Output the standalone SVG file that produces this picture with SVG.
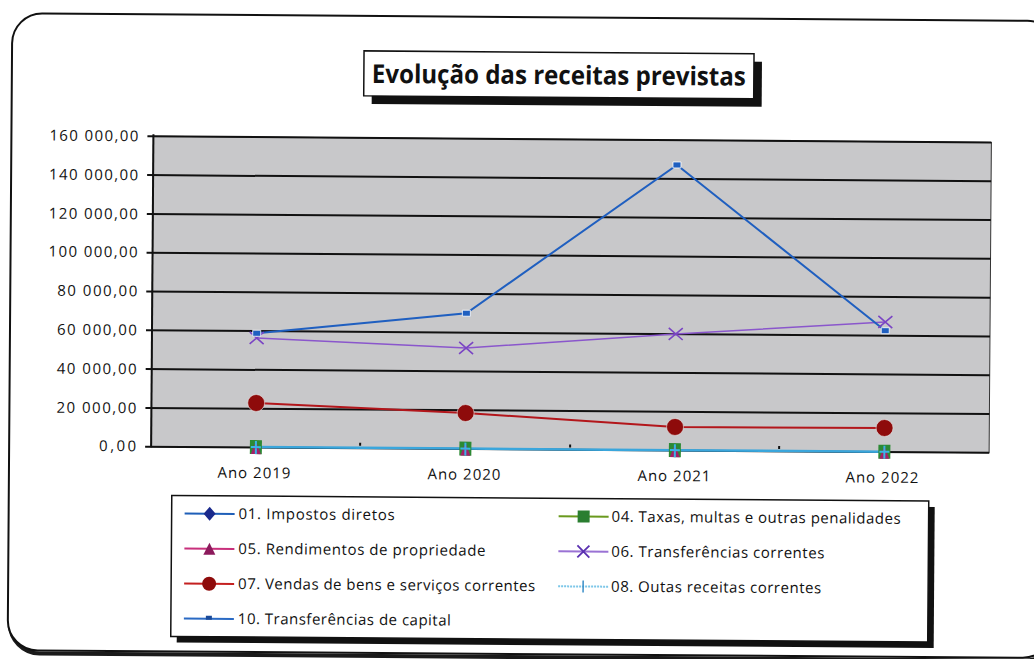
<svg xmlns="http://www.w3.org/2000/svg" width="1034" height="659" viewBox="0 0 1034 659">
<style>
  .lbl { font-family: "Open Sans", "Liberation Sans", sans-serif; font-size: 15px; fill: #111; }
  .ytick { text-anchor: end; }
  .xtick { text-anchor: middle; }
  .leg { font-family: "Open Sans", "Liberation Sans", sans-serif; font-size: 15px; fill: #111; }
  .grid { stroke: #111; stroke-width: 2; }
</style>
<defs>
  <g id="sq"><rect x="-4" y="-3" width="8" height="6" fill="#1f5fc0" stroke="#fff" stroke-width="0.8"/></g>
  <g id="xm"><path d="M-7,-6 L7,6 M-7,6 L7,-6" stroke="#7a44c4" stroke-width="1.6"/></g>
  <g id="dot"><circle r="8.5" fill="#8e0b0b" stroke="#e8e8e8" stroke-width="0.6"/></g>
  <g id="stack">
    <rect x="-6" y="-7" width="12" height="14" fill="#2c8a34"/>
    <path d="M-5,7 L0,-6 L5,7 Z" fill="#a32068"/>
    <path d="M0,-6 V7 M-5,0 H5" stroke="#38b4e6" stroke-width="2"/>
  </g>
</defs>
<rect width="1034" height="659" fill="#ffffff"/>
<g transform="rotate(0.42 517 330)">
  <g id="frame">
    <rect x="12" y="20" width="1045" height="637" rx="30" fill="none" stroke="#1a1a1a" stroke-width="4"/>
    <rect x="10" y="17" width="1045" height="637" rx="30" fill="#ffffff" stroke="#111" stroke-width="2"/>
  </g>
  <g id="title">
    <rect x="370" y="60" width="390" height="45" fill="#111"/>
    <rect x="362" y="52" width="390" height="45" fill="#fff" stroke="#111" stroke-width="1.5"/>
    <text x="557" y="84" text-anchor="middle" font-family="Open Sans, Liberation Sans, sans-serif" font-weight="bold" font-size="26" textLength="374" lengthAdjust="spacingAndGlyphs" fill="#111">Evolução das receitas previstas</text>
  </g>
  <g id="plot">
    <rect x="152" y="139" width="838" height="310.4" fill="#c8c8ca" stroke="#333" stroke-width="1"/>
    <g class="grid">
      <line x1="146" y1="139" x2="990" y2="139"/>
      <line x1="146" y1="177.8" x2="990" y2="177.8"/>
      <line x1="146" y1="216.6" x2="990" y2="216.6"/>
      <line x1="146" y1="255.4" x2="990" y2="255.4"/>
      <line x1="146" y1="294.2" x2="990" y2="294.2"/>
      <line x1="146" y1="333" x2="990" y2="333"/>
      <line x1="146" y1="371.8" x2="990" y2="371.8"/>
      <line x1="146" y1="410.6" x2="990" y2="410.6"/>
      <line x1="146" y1="449.4" x2="990" y2="449.4"/>
      <line x1="152" y1="137" x2="152" y2="450"/>
    </g>
    <g fill="#111">
      <rect x="360" y="444" width="2" height="3"/>
      <rect x="570" y="444" width="2" height="3"/>
      <rect x="779" y="444" width="2" height="3"/>
    </g>
  </g>
  <g id="yaxis" class="lbl ytick">
    <text x="137" y="144" textLength="89">160 000,00</text>
    <text x="137" y="183" textLength="89">140 000,00</text>
    <text x="137" y="222" textLength="89">120 000,00</text>
    <text x="137" y="260" textLength="89">100 000,00</text>
    <text x="137" y="299" textLength="80">80 000,00</text>
    <text x="137" y="338" textLength="80">60 000,00</text>
    <text x="137" y="377" textLength="80">40 000,00</text>
    <text x="137" y="416" textLength="80">20 000,00</text>
    <text x="137" y="454" textLength="37">0,00</text>
  </g>
  <g id="xaxis" class="lbl xtick">
    <text x="255" y="480" textLength="73">Ano 2019</text>
    <text x="465" y="480" textLength="73">Ano 2020</text>
    <text x="675" y="480" textLength="73">Ano 2021</text>
    <text x="883" y="480" textLength="73">Ano 2022</text>
  </g>
  <g id="connectors" fill="none">
    <polyline id="s08" points="256.75,449 466.25,449 675.75,449 885.25,449" stroke="#3aa6dc" stroke-width="2.5"/>
    <polyline id="s07" points="256.75,404.9 466.25,413.4 675.75,425.8 885.25,425.3" stroke="#b3161b" stroke-width="2"/>
    <polyline id="s06" points="256.75,339.9 466.25,348.4 675.75,332.8 885.25,319.3" stroke="#8a56cc" stroke-width="1.5"/>
    <polyline id="s10" points="256.75,335.2 466.25,313.6 675.75,163.8 885.25,328" stroke="#1f5fc0" stroke-width="2"/>
  </g>
  <g id="markers">
    <use href="#stack" x="256.75" y="449"/>
    <use href="#stack" x="466.25" y="449"/>
    <use href="#stack" x="675.75" y="449"/>
    <use href="#stack" x="885.25" y="449"/>
    <use href="#dot" x="256.75" y="404.9"/>
    <use href="#dot" x="466.25" y="413.4"/>
    <use href="#dot" x="675.75" y="425.8"/>
    <use href="#dot" x="885.25" y="425.3"/>
    <use href="#xm" x="256.75" y="339.9"/>
    <use href="#xm" x="466.25" y="348.4"/>
    <use href="#xm" x="675.75" y="332.8"/>
    <use href="#xm" x="885.25" y="319.3"/>
    <use href="#sq" x="256.75" y="335.2"/>
    <use href="#sq" x="466.25" y="313.6"/>
    <use href="#sq" x="675.75" y="163.8"/>
    <use href="#sq" x="885.25" y="328"/>
  </g>
  <g id="legend">
    <rect x="179" y="504" width="757" height="141" fill="#111"/>
    <rect x="173" y="498" width="757" height="141" fill="#fff" stroke="#111" stroke-width="1.5"/>
    <g id="leg01">
      <line x1="186" y1="516" x2="236" y2="516" stroke="#1f5fb8" stroke-width="2"/>
      <path d="M211,509 L217,516 L211,523 L205,516 Z" fill="#1a2a8c"/>
      <text class="leg" x="240" y="521" textLength="156">01. Impostos diretos</text>
    </g>
    <g id="leg04">
      <line x1="560" y1="516" x2="610" y2="516" stroke="#6a9a1e" stroke-width="2"/>
      <rect x="579" y="510" width="12" height="12" fill="#2a7e30"/>
      <text class="leg" x="613" y="521" textLength="289">04. Taxas, multas e outras penalidades</text>
    </g>
    <g id="leg05">
      <line x1="186" y1="551" x2="236" y2="551" stroke="#c8307c" stroke-width="2"/>
      <path d="M205,557 L211,545 L217,557 Z" fill="#8c1a5c"/>
      <text class="leg" x="240" y="556" textLength="247">05. Rendimentos de propriedade</text>
    </g>
    <g id="leg06">
      <line x1="560" y1="551" x2="610" y2="551" stroke="#9a72d4" stroke-width="2"/>
      <path d="M579,545 L591,557 M579,557 L591,545" stroke="#5a30b0" stroke-width="1.8"/>
      <text class="leg" x="613" y="556" textLength="213">06. Transferências correntes</text>
    </g>
    <g id="leg07">
      <line x1="186" y1="586" x2="236" y2="586" stroke="#c42020" stroke-width="2"/>
      <circle cx="211" cy="586" r="7" fill="#8e0b0b"/>
      <text class="leg" x="240" y="591" textLength="297">07. Vendas de bens e serviços correntes</text>
    </g>
    <g id="leg08">
      <line x1="560" y1="586" x2="610" y2="586" stroke="#7cc6e8" stroke-width="2" stroke-dasharray="2 1"/>
      <path d="M585,580 V592" stroke="#3a8ec8" stroke-width="1.5"/>
      <text class="leg" x="613" y="591" textLength="210">08. Outas receitas correntes</text>
    </g>
    <g id="leg10">
      <line x1="186" y1="621" x2="236" y2="621" stroke="#2a6ac4" stroke-width="2"/>
      <rect x="208" y="618" width="6" height="4" fill="#1a4a9a"/>
      <text class="leg" x="240" y="626" textLength="213">10. Transferências de capital</text>
    </g>
  </g>
</g>
</svg>
